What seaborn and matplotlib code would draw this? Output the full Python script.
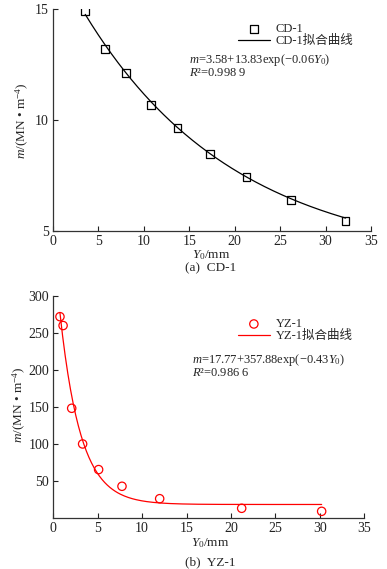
import numpy as np
import pandas as pd
import matplotlib
matplotlib.use('Agg')
import matplotlib.pyplot as plt
import seaborn as sns

# CD-1 measured points
cd_y0 = [3.55, 5.7, 8.0, 10.75, 13.7, 17.3, 21.3, 26.2, 32.2]
cd_m = [14.91, 13.21, 12.12, 10.66, 9.64, 8.47, 7.45, 6.41, 5.44]
cd_fit = [3.58, 13.83, -0.06]  # m = a + b*exp(c*Y0)

# YZ-1 measured points
yz_y0 = [0.75, 1.1, 2.07, 3.3, 5.1, 7.73, 11.97, 21.2, 30.2]
yz_m = [272, 260, 148, 99.7, 65, 42.4, 25.6, 12.6, 8.5]
yz_fit = [17.77, 357.88, -0.43]

x_ticks = [0, 5, 10, 15, 20, 25, 30, 35]
cd_yticks = [5, 10, 15]
yz_yticks = [50, 100, 150, 200, 250, 300]

sns.set_style('ticks')
plt.rcParams['font.family'] = ['Liberation Serif', 'Noto Sans CJK SC']
plt.rcParams['mathtext.fontset'] = 'custom'
plt.rcParams['mathtext.rm'] = 'Liberation Serif'
plt.rcParams['mathtext.it'] = 'Liberation Serif:italic'
plt.rcParams['axes.unicode_minus'] = True

W, H = 387, 569
fig = plt.figure(figsize=(W / 100, H / 100), dpi=100)
fig.patch.set_facecolor('white')


def box(l, t, r, b):
    return [l / W, 1 - b / H, (r - l) / W, (b - t) / H]


def fit_curve(coef, x0, x1):
    xs = np.linspace(x0, x1, 200)
    return pd.DataFrame({'x': xs, 'y': coef[0] + coef[1] * np.exp(coef[2] * xs)})


def style_axes(ax, yticks, ylim, xlim):
    ax.set_xlim(*xlim)
    ax.set_ylim(*ylim)
    ax.set_xticks(x_ticks)
    ax.set_yticks(yticks)
    for s in ['top', 'right']:
        ax.spines[s].set_visible(False)
    for s in ['left', 'bottom']:
        ax.spines[s].set_linewidth(0.9)
        ax.spines[s].set_color('#333333')
    ax.tick_params(direction='in', length=3.5, width=0.8, labelsize=10,
                   pad=3, colors='#222222')
    ax.set_xlabel('')
    ax.set_ylabel('')
    ax.set_facecolor('white')


tfs = 9.5
efs = 9.0
lfs = 9

# (a) CD-1
ax1 = fig.add_axes(box(53, 9, 371, 231))
d1 = pd.DataFrame({'x': cd_y0, 'y': cd_m})
f1 = fit_curve(cd_fit, cd_y0[0], cd_y0[-1])
sns.scatterplot(data=d1, x='x', y='y', ax=ax1, marker='s', s=32,
                facecolor='none', edgecolor='black', linewidth=0.9,
                label='CD-1', zorder=3)
sns.lineplot(data=f1, x='x', y='y', ax=ax1, color='black', linewidth=0.9,
             label='CD-1拟合曲线')
style_axes(ax1, cd_yticks, (5, 15), (0, 35))
ax1.legend(loc='upper left', bbox_to_anchor=(232 / W, 1 - 17 / H),
           bbox_transform=fig.transFigure, frameon=False, fontsize=lfs,
           handlelength=2.5, handletextpad=0.5, labelspacing=0.0,
           borderpad=0)
fig.text(189 / W, 1 - 63 / H, '$m$=3.58+13.83exp(−0.06$Y_0$)',
         fontsize=efs, va='baseline', ha='left')
fig.text(189 / W, 1 - 76.5 / H, '$R$²=0.998 9',
         fontsize=efs, va='baseline', ha='left')
fig.text(22 / W, 1 - 121 / H, '$m$/(MN • m$^{-4}$)', rotation=90,
         fontsize=tfs, va='center', ha='center')
fig.text(211 / W, 1 - 255 / H, '$Y_0$/mm', fontsize=tfs, va='center',
         ha='center')
fig.text(211 / W, 1 - 268 / H, '(a)  CD-1', fontsize=tfs, va='center',
         ha='center')

# (b) YZ-1
ax2 = fig.add_axes(box(53.3, 296, 364.3, 517.6))
d2 = pd.DataFrame({'x': yz_y0, 'y': yz_m})
f2 = fit_curve(yz_fit, yz_y0[0], yz_y0[-1])
sns.scatterplot(data=d2, x='x', y='y', ax=ax2, marker='o', s=36,
                facecolor='none', edgecolor='red', linewidth=0.9,
                label='YZ-1', zorder=3)
sns.lineplot(data=f2, x='x', y='y', ax=ax2, color='red', linewidth=0.9,
             label='YZ-1拟合曲线')
style_axes(ax2, yz_yticks, (0, 300), (0, 35))
ax2.legend(loc='upper left', bbox_to_anchor=(232 / W, 1 - 312 / H),
           bbox_transform=fig.transFigure, frameon=False, fontsize=lfs,
           handlelength=2.5, handletextpad=0.5, labelspacing=0.0,
           borderpad=0)
fig.text(192 / W, 1 - 362.5 / H, '$m$=17.77+357.88exp(−0.43$Y_0$)',
         fontsize=efs, va='baseline', ha='left')
fig.text(192 / W, 1 - 376 / H, '$R$²=0.986 6',
         fontsize=efs, va='baseline', ha='left')
fig.text(19 / W, 1 - 405 / H, '$m$/(MN • m$^{-4}$)', rotation=90,
         fontsize=tfs, va='center', ha='center')
fig.text(210 / W, 1 - 543 / H, '$Y_0$/mm', fontsize=tfs, va='center',
         ha='center')
fig.text(210 / W, 1 - 562 / H, '(b)  YZ-1', fontsize=tfs, va='center',
         ha='center')

fig.savefig('out.png', dpi=100, facecolor='white')
